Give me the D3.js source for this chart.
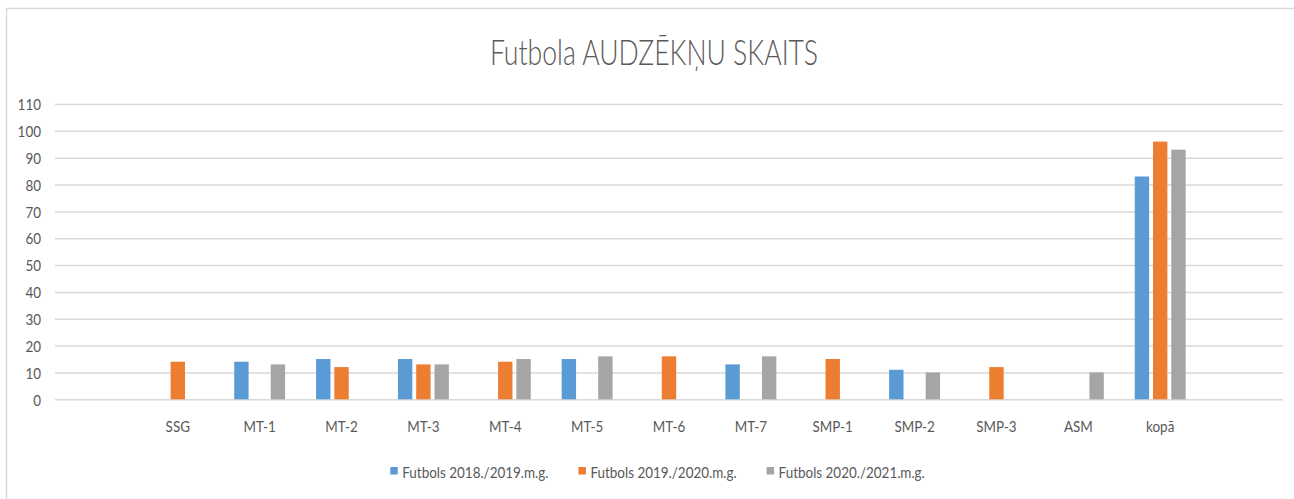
<!DOCTYPE html>
<html>
<head>
<meta charset="utf-8">
<script src="https://cdn.jsdelivr.net/npm/d3@7"></script>
<style>
  body { margin: 0; background: #fff; }
  text { font-family: Lato, "Open Sans", sans-serif; fill: #595959; }
</style>
</head>
<body>
<svg id="chart" width="1294" height="499"></svg>
<script>
// chart data
var title = "Futbola AUDZĒKŅU SKAITS";
var categories = ["", "SSG", "MT-1", "MT-2", "MT-3", "MT-4", "MT-5", "MT-6", "MT-7", "SMP-1", "SMP-2", "SMP-3", "ASM", "kopā", ""];
var seriesNames = ["Futbols 2018./2019.m.g.", "Futbols 2019./2020.m.g.", "Futbols 2020./2021.m.g."];
var colors = ["#5B9BD5", "#ED7D31", "#A5A5A5"];
var values2018 = [null, null, 14, 15, 15, null, 15, null, 13, null, 11, null, null, 83, null];
var values2019 = [null, 14, null, 12, 13, 14, null, 16, null, 15, null, 12, null, 96, null];
var values2020 = [null, null, 13, null, 13, 15, 16, null, 16, null, 10, null, 10, 93, null];
var yTicks = [0, 10, 20, 30, 40, 50, 60, 70, 80, 90, 100, 110];

var allSeries = [values2018, values2019, values2020];

var svg = d3.select("#chart");

// outer frame (continues past the bottom/right edge)
svg.append("rect")
   .attr("x", 6.5).attr("y", 8.5)
   .attr("width", 1400).attr("height", 600)
   .attr("fill", "#fff")
   .attr("stroke", "#D9D9D9").attr("stroke-width", 1.5);

var plotLeft = 55, plotRight = 1283, plotTop = 104, plotBottom = 399.3;

var x0 = d3.scaleBand().domain(d3.range(categories.length)).range([plotLeft, plotRight]).padding(0);
var y = d3.scaleLinear().domain([0, 110]).range([plotBottom, plotTop]);

var groupW = x0.bandwidth() * 0.622;
var x1 = d3.scaleBand().domain(d3.range(seriesNames.length))
   .range([-groupW / 2, groupW / 2]).paddingInner(0.213);

// squeeze text horizontally to match the narrow look
var squeeze = 0.84;
function narrow(sel, f) {
   sel.each(function () {
      var w = this.getComputedTextLength();
      d3.select(this).attr("textLength", w * f).attr("lengthAdjust", "spacingAndGlyphs");
   });
}

// gridlines + y labels
var yAxis = svg.append("g")
   .attr("transform", "translate(" + plotLeft + ",0)")
   .call(d3.axisLeft(y).tickValues(yTicks).tickSize(-(plotRight - plotLeft)).tickPadding(14));
yAxis.select(".domain").remove();
yAxis.selectAll("line").attr("stroke", "#D9D9D9").attr("stroke-width", 1.5);
yAxis.selectAll("text").attr("font-size", 16).attr("fill", "#595959")
   .attr("font-family", "Lato, sans-serif").attr("dy", "0.36em");

// bars
allSeries.forEach(function (vals, s) {
   svg.append("g").selectAll("rect")
      .data(vals.map(function (v, i) { return {i: i, v: v}; }).filter(function (d) { return d.v != null; }))
      .enter()
      .append("rect")
      .attr("x", function (d) { return x0(d.i) + x0.bandwidth() / 2 + x1(s); })
      .attr("width", x1.bandwidth())
      .attr("y", function (d) { return y(d.v); })
      .attr("height", function (d) { return y(0) - y(d.v); })
      .attr("fill", colors[s]);
});

// category labels
var xAxis = svg.append("g")
   .attr("transform", "translate(0," + plotBottom + ")")
   .call(d3.axisBottom(x0).tickSize(0).tickFormat(function (i) { return categories[i]; }));
xAxis.select(".domain").remove();
xAxis.selectAll("text").attr("font-size", 16).attr("fill", "#595959")
   .attr("font-family", "Lato, sans-serif").attr("y", 33).attr("dy", 0);

narrow(yAxis.selectAll("text"), squeeze);
narrow(xAxis.selectAll("text"), squeeze);

// title
var t = svg.append("text")
   .attr("x", 654).attr("y", 65)
   .attr("text-anchor", "middle")
   .attr("font-size", 35)
   .attr("font-weight", 300)
   .text(title);
narrow(t, 0.76);

// legend
var legend = svg.append("g");
var items = [];
seriesNames.forEach(function (name, s) {
   var g = legend.append("g");
   g.append("rect").attr("x", 0).attr("y", -10.5).attr("width", 7.5).attr("height", 7.5).attr("fill", colors[s]);
   var tx = g.append("text").attr("x", 12).attr("y", 0).attr("font-size", 16).text(name);
   narrow(tx, squeeze);
   items.push({g: g, w: 12 + (+tx.attr("textLength"))});
});
var gap = 30;
var totalW = d3.sum(items, function (d) { return d.w; }) + gap * (items.length - 1);
var lx = 657.5 - totalW / 2;
items.forEach(function (it) {
   it.g.attr("transform", "translate(" + lx + ",477.5)");
   lx += it.w + gap;
});
</script>
</body>
</html>
